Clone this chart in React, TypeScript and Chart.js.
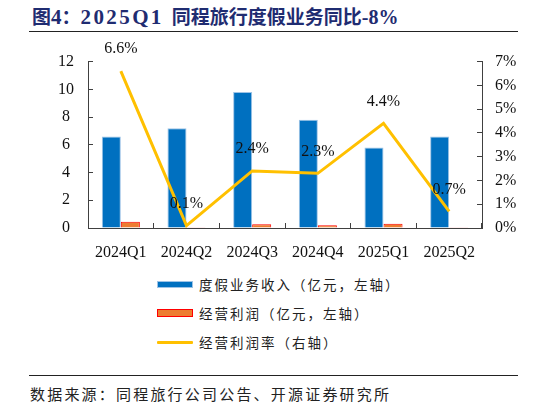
import { useEffect, useRef } from 'react';
import { Chart, registerables } from 'chart.js';

Chart.register(...registerables);

const quarters = ['2024Q1', '2024Q2', '2024Q3', '2024Q4', '2025Q1', '2025Q2'];
const revenue = [6.6, 7.2, 9.8, 7.8, 5.8, 6.6];
const profit = [0.45, 0.02, 0.27, 0.2, 0.3, 0.05];
const margin = [6.6, 0.1, 2.4, 2.3, 4.4, 0.7];
const leftTicks = [0, 2, 4, 6, 8, 10, 12];
const rightTicks = [0, 1, 2, 3, 4, 5, 6, 7];

const seriesNames = ['度假业务收入（亿元，左轴）', '经营利润（亿元，左轴）', '经营利润率（右轴）'];

const BLUE = '#0070C0';
const ORANGE = '#ED7D31';
const YELLOW = '#FFC000';
const AXIS = '#404040';
const SERIF = '"Liberation Serif", "Times New Roman", serif';
const CJK = '"Noto Sans CJK SC", sans-serif';
const NAVY = '#1F2C71';

// 利润率数据标签，画在折线点上方
const marginLabels = {
	id: 'marginLabels',
	afterDatasetsDraw(chart: Chart) {
		const meta = chart.getDatasetMeta(2);
		const ctx = chart.ctx;
		ctx.save();
		ctx.font = '16px ' + SERIF;
		ctx.fillStyle = '#111';
		ctx.textAlign = 'center';
		ctx.textBaseline = 'middle';
		meta.data.forEach((pt: any, i: number) => {
			ctx.fillText(margin[i].toFixed(1) + '%', pt.x, pt.y - 22);
		});
		ctx.restore();
	}
};

function ComboChart() {
	const canvasRef = useRef<HTMLCanvasElement | null>(null);
	const chartRef = useRef<Chart | null>(null);

	useEffect(() => {
		if (!canvasRef.current) return;
		if (chartRef.current) chartRef.current.destroy();

		const tickFont = { family: SERIF, size: 16 };

		chartRef.current = new Chart(canvasRef.current, {
			type: 'bar',
			data: {
				labels: quarters,
				datasets: [
					{
						label: seriesNames[0],
						data: revenue,
						backgroundColor: BLUE,
						borderColor: '#9DC3E6',
						borderWidth: 1,
						yAxisID: 'y',
						order: 2
					},
					{
						label: seriesNames[1],
						data: profit,
						backgroundColor: ORANGE,
						borderColor: '#FF0000',
						borderWidth: 1,
						yAxisID: 'y',
						order: 2
					},
					{
						type: 'line',
						label: seriesNames[2],
						data: margin,
						borderColor: YELLOW,
						borderWidth: 3,
						pointRadius: 0,
						tension: 0,
						yAxisID: 'y1',
						order: 0
					} as any
				]
			},
			options: {
				responsive: false,
				animation: false,
				datasets: {
					bar: { categoryPercentage: 0.58, barPercentage: 1 }
				},
				layout: { padding: { top: 22, left: 0, right: 0, bottom: 0 } },
				plugins: {
					legend: { display: false },
					tooltip: { enabled: false }
				},
				scales: {
					x: {
						grid: { drawOnChartArea: false, tickLength: -5, color: AXIS, offset: true },
						border: { color: AXIS },
						ticks: { font: tickFont, color: '#111', padding: 20, maxRotation: 0 },
						afterFit: (s: any) => { s.height = 37; }
					},
					y: {
						position: 'left',
						min: 0,
						max: 12,
						afterBuildTicks: (s: any) => { s.ticks = leftTicks.map((v) => ({ value: v })); },
						grid: { drawOnChartArea: false, tickLength: -5, color: AXIS },
						border: { color: AXIS },
						ticks: { font: tickFont, color: '#111', padding: 19, crossAlign: 'center' },
						afterFit: (s: any) => { s.width = 88; }
					},
					y1: {
						position: 'right',
						min: 0,
						max: 7,
						afterBuildTicks: (s: any) => { s.ticks = rightTicks.map((v) => ({ value: v })); },
						grid: { drawOnChartArea: false, tickLength: -5, color: AXIS },
						border: { color: AXIS },
						ticks: { font: tickFont, color: '#111', padding: 18, callback: (v: any) => v + '%' },
						afterFit: (s: any) => { s.width = 64; }
					}
				}
			},
			plugins: [marginLabels]
		});

		return () => {
			chartRef.current?.destroy();
			chartRef.current = null;
		};
	}, []);

	return <canvas ref={canvasRef} width={546} height={232} style={{ position: 'absolute', left: 0, top: 33, width: 546, height: 232 }} />;
}

function LegendRow({ idx, top }: { idx: number; top: number }) {
	let swatch;
	if (idx === 0) swatch = <div style={{ width: 36, height: 7, background: BLUE, border: '1px solid #9DC3E6', boxSizing: 'border-box' }} />;
	else if (idx === 1) swatch = <div style={{ width: 36, height: 8, background: ORANGE, border: '1px solid #FF0000', boxSizing: 'border-box' }} />;
	else swatch = <div style={{ width: 36, height: 3, background: YELLOW, borderRadius: 1 }} />;
	return (
		<div style={{ position: 'absolute', left: 157, top: top - 10, height: 20, display: 'flex', alignItems: 'center' }}>
			{swatch}
			<span style={{ marginLeft: 6, fontFamily: CJK, fontSize: 13.5, letterSpacing: 2, color: '#222', whiteSpace: 'nowrap' }}>
				{seriesNames[idx]}
			</span>
		</div>
	);
}

function Title() {
	const latin = { fontFamily: SERIF, fontSize: 21 };
	return (
		<div style={{ position: 'absolute', left: 32, top: 2, fontWeight: 'bold', color: NAVY, whiteSpace: 'nowrap', fontFamily: CJK, fontSize: 19, lineHeight: '28px' }}>
			<span>图</span>
			<span style={latin}>4</span>
			<span>：</span>
			<span style={{ ...latin, letterSpacing: 2.4 }}>2025Q1</span>
			<span style={{ marginLeft: 8 }}>同程旅行度假业务同比</span>
			<span style={{ ...latin, fontSize: 20 }}>-8%</span>
		</div>
	);
}

export default function App() {
	return (
		<div style={{ position: 'absolute', left: 0, top: 0, width: 546, height: 405, background: '#fff', overflow: 'hidden' }}>
			<Title />
			<div style={{ position: 'absolute', left: 29, top: 31, width: 489, height: 1, background: '#222' }} />
			<ComboChart />
			<LegendRow idx={0} top={284} />
			<LegendRow idx={1} top={313} />
			<LegendRow idx={2} top={342} />
			<div style={{ position: 'absolute', left: 29, top: 375, width: 489, height: 1, background: '#222' }} />
			<div style={{ position: 'absolute', left: 30, top: 383, fontFamily: CJK, fontSize: 15, letterSpacing: 2.2, color: '#222', whiteSpace: 'nowrap' }}>
				数据来源：同程旅行公司公告、开源证券研究所
			</div>
		</div>
	);
}
